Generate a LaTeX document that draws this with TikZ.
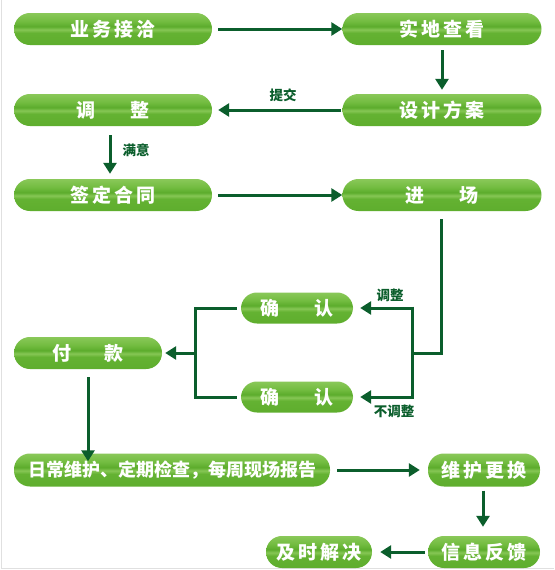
\documentclass[tikz,border=0pt]{standalone}
\usepackage{fontspec}
\usetikzlibrary{arrows.meta}
\newfontfamily\cjk{Noto Sans CJK SC}
\definecolor{arr}{HTML}{0B5E2C}
\definecolor{gA}{HTML}{8CC864}
\definecolor{gB}{HTML}{5AAA2A}
\definecolor{gC}{HTML}{64B232}
\definecolor{gD}{HTML}{86C655}
\definecolor{gE}{HTML}{5CAC2C}
\definecolor{gF}{HTML}{72BC40}
\definecolor{gG}{HTML}{B8DF8A}
\pgfdeclareverticalshading{greenbar}{100bp}{color(0bp)=(gA); color(10bp)=(gB); color(44bp)=(gC); color(49bp)=(gD); color(54bp)=(gE); color(62bp)=(gF); color(100bp)=(gG)}
\begin{document}
\begin{tikzpicture}[x=1pt,y=-1pt,
  gbox/.style={rounded corners=15.9pt, shade, shading=greenbar, minimum height=32pt, inner sep=0pt, text=white, font=\cjk\bfseries\fontsize{19}{19}\selectfont},
  conn/.style={draw=arr, line width=3pt, -{Triangle[length=11pt,width=13pt]}},
  wire/.style={draw=arr, line width=3pt},
  lbl/.style={text=arr, font=\cjk\bfseries\fontsize{13.5}{13.5}\selectfont}]
\useasboundingbox (0,0) rectangle (554,570);
\fill[white] (0,0) rectangle (554,570);
\draw[draw=black!12, line width=1pt] (1.5,0) -- (1.5,568.5) -- (554,568.5);

\node[gbox, minimum width=198pt] (b1) at (113,29) {业\,务\,接\,洽};
\node[gbox, minimum width=199pt] (b2) at (442,29) {实\,地\,查\,看};
\node[gbox, minimum width=199pt] (b3) at (442,110) {设\,计\,方\,案};
\node[gbox, minimum width=198pt] (b4) at (113,110) {调\hspace{1.8em}整};
\node[gbox, minimum width=198pt] (b5) at (113,195) {签\,定\,合\,同};
\node[gbox, minimum width=199pt] (b6) at (442,195) {进\hspace{1.8em}场};
\node[gbox, minimum width=112pt, minimum height=31pt] (c1) at (297,308) {确\hspace{1.8em}认};
\node[gbox, minimum width=112pt, minimum height=31pt] (c2) at (297,397) {确\hspace{1.8em}认};
\node[gbox, minimum width=148pt] (b7) at (88,353) {付\hspace{1.7em}款};
\node[gbox, minimum width=316pt, minimum height=33pt, font=\cjk\bfseries\fontsize{18}{18}\selectfont] (b8) at (172,470) {日常维护、定期检查，每周现场报告};
\node[gbox, minimum width=112pt, minimum height=33pt] (b9) at (484,470) {维\,护\,更\,换};
\node[gbox, minimum width=112pt] (b10) at (484,552) {信\,息\,反\,馈};
\node[gbox, minimum width=106pt] (b11) at (319,552) {及\,时\,解\,决};

\draw[conn] ([xshift=6pt]b1.east) -- (b2.west);
\draw[conn] ([yshift=-5pt]b2.south) -- ([yshift=4pt]b3.north);
\draw[conn] ([xshift=-1pt]b3.west) -- ([xshift=6pt]b4.east);
\node[lbl] (t1) at (283,95) {提交};
\draw[conn] ([xshift=-3pt,yshift=-9pt]b4.south) -- ([xshift=-3pt,yshift=5pt]b5.north);
\node[lbl] (t2) at (136,150) {满意};
\draw[conn] ([xshift=6pt]b5.east) -- (b6.west);

\coordinate (j1) at (441,353);
\coordinate (j2) at (412,308);
\coordinate (j3) at (412,397);
\draw[wire] ([yshift=-8pt]b6.south -| j1) -- (j1) -- (j1 -| j2);
\draw[wire] ([yshift=1.5pt]j2) -- ([yshift=-1.5pt]j3);
\draw[conn] (j2) -- ([xshift=7pt]c1.east);
\draw[conn] (j3) -- ([xshift=7pt]c2.east);
\node[lbl] (t3) at (390,295) {调整};
\node[lbl] (t4) at (394,411) {不调整};

\coordinate (k1) at (195,308);
\coordinate (k2) at (195,397);
\coordinate (k3) at (195,353);
\draw[wire] ([xshift=-4pt]c1.west) -- (k1) -- (k2) -- ([xshift=-4pt]c2.west);
\draw[conn] (k3) -- ([xshift=3pt]b7.east);
\draw[conn] ([yshift=-8pt]b7.south) -- ([yshift=-8pt]b7.south |- b8.north);
\draw[conn] ([xshift=7pt]b8.east) -- ([xshift=-8pt]b9.west);
\draw[conn] ([xshift=-1pt,yshift=-4pt]b9.south) -- ([xshift=-1pt,yshift=9pt]b10.north);
\draw[conn] ([xshift=-3pt]b10.west) -- ([xshift=8pt]b11.east);
\end{tikzpicture}
\end{document}
